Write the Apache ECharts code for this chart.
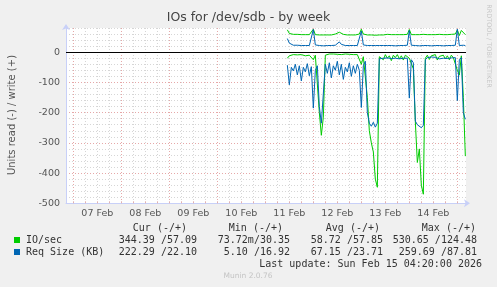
<!DOCTYPE html>
<html><head><meta charset="utf-8">
<script src="https://cdn.jsdelivr.net/npm/echarts@6/dist/echarts.min.js"></script>
<style>html,body{margin:0;padding:0;background:#f0f0f0}#c{width:497px;height:287px}</style>
</head><body><div id="c"></div>
<script>
// hours since 07 Feb 00:00
const startHour = 107;           // first sample: 11 Feb 11:00, 1 h steps
const xMin = -3 - 40 / 60;       // 06 Feb 20:20
const xMax = 196 + 20 / 60;      // 15 Feb 04:20
const xLabels = ['07 Feb', '08 Feb', '09 Feb', '10 Feb', '11 Feb', '12 Feb', '13 Feb', '14 Feb'];
const yLabelValues = [0, -100, -200, -300, -400, -500];

const ioWrite = [
  74, 62, 60, 59, 58, 59, 57, 58, 57, 58,
  57, 58, 60, 76, 58, 57, 57, 58, 57, 56,
  57, 58, 57, 58, 60, 62, 66, 60, 59, 58,
  57, 58, 57, 58, 57, 58, 60, 76, 60, 58,
  57, 58, 57, 58, 56, 58, 57, 59, 57, 58,
  59, 62, 58, 57, 58, 56, 58, 57, 58, 57,
  59, 75, 58, 57, 58, 56, 58, 57, 59, 57,
  58, 57, 58, 56, 58, 57, 59, 57, 58, 57,
  58, 57, 59, 57, 60, 74, 55, 72, 68, 58];
const reqWrite = [
  45, 30, 25, 23, 22, 23, 22, 22, 21, 22,
  22, 22, 23, 75, 24, 22, 22, 22, 21, 22,
  22, 22, 22, 22, 23, 28, 34, 26, 23, 22,
  22, 22, 21, 22, 22, 22, 23, 70, 24, 22,
  22, 22, 22, 21, 22, 22, 22, 22, 22, 21,
  22, 22, 22, 22, 21, 22, 22, 22, 22, 22,
  23, 72, 23, 22, 22, 22, 21, 22, 22, 22,
  22, 22, 21, 22, 22, 22, 22, 22, 21, 22,
  22, 22, 22, 22, 23, 76, 22, 22, 23, 22];
const ioRead = [
  -20, -12, -10, -8, -10, -9, -11, -8, -10, -12,
  -9, -10, -8, -25, -10, -9, -200, -275, -215, -10,
  -8, -6, -7, -6, -8, -7, -6, -8, -7, -6,
  -8, -7, -6, -8, -10, -8, -12, -40, -15, -12,
  -150, -260, -300, -330, -420, -447, -15, -10, -25, -8,
  -20, -12, -28, -10, -18, -8, -22, -12, -26, -10,
  -15, -20, -15, -55, -230, -365, -320, -440, -470, -20,
  -10, -24, -12, -18, -8, -26, -14, -20, -10, -22,
  -12, -25, -10, -18, -15, -60, -76, -12, -150, -344];
const reqRead = [
  -43, -108, -50, -62, -40, -75, -45, -95, -50, -65,
  -38, -78, -48, -185, -60, -45, -180, -235, -232, -40,
  -70, -35, -85, -45, -60, -30, -75, -40, -90, -50,
  -65, -35, -80, -45, -70, -40, -60, -183, -45, -30,
  -200, -235, -245, -232, -248, -235, -22, -18, -20, -16,
  -19, -15, -21, -17, -20, -16, -22, -18, -20, -17,
  -20, -152, -25, -35, -228, -240, -235, -250, -242, -25,
  -18, -20, -16, -21, -17, -19, -22, -16, -20, -18,
  -21, -17, -19, -20, -18, -160, -25, -18, -200, -222];

const legendNames = ['IO/sec', 'Req Size (KB)'];
const legendHeads = ['Cur (-/+)', 'Min (-/+)', 'Avg (-/+)', 'Max (-/+)'];
const curVals = ['344.39 /57.09', '222.29 /22.10'];
const minVals = ['73.72m/30.35', '5.10 /16.92'];
const avgVals = ['58.72 /57.85', '67.15 /23.71'];
const maxVals = ['530.65 /124.48', '259.69 /87.81'];
const lastUpdate = 'Last update: Sun Feb 15 04:20:00 2026';

const GREEN = '#00cc00', BLUE = '#0066b3';
const toPairs = arr => arr.map((v, i) => [startHour + i, v]);

const xTicks = []; for (let h = 0; h <= 192; h += 6) xTicks.push(h);
const xLabelPos = xLabels.map((_, k) => 12 + 24 * k);

const mono = 'DejaVu Sans Mono';
const txtColor = '#333';
const graphic = [
  { type: 'text', left: 'center', top: 11, style: { text: 'IOs for /dev/sdb - by week', font: '12.5px "DejaVu Sans"', fill: '#444' } },
  { type: 'text', x: 12, y: 115, rotation: Math.PI / 2, style: { text: 'Units read (-) / write (+)', font: '10px "DejaVu Sans"', fill: '#555', align: 'center', verticalAlign: 'middle' } },
  { type: 'text', x: 489, y: 46, rotation: -Math.PI / 2, style: { text: 'RRDTOOL / TOBI OETIKER', font: '6.5px "DejaVu Sans"', fill: '#c8c8c8', align: 'center', verticalAlign: 'middle' } },
  { type: 'text', x: 248, y: 276, style: { text: 'Munin 2.0.76', font: '7.5px "DejaVu Sans"', fill: '#c4c4c4', align: 'center', verticalAlign: 'middle' } },
  { type: 'text', x: 482, y: 264, style: { text: lastUpdate, font: '10px "' + mono + '"', fill: txtColor, align: 'right', verticalAlign: 'middle' } }
];
const headEnds = [187, 283, 380, 476];
legendHeads.forEach((h, k) => graphic.push({ type: 'text', x: headEnds[k], y: 228, style: { text: h, font: '10px "' + mono + '"', fill: txtColor, align: 'right', verticalAlign: 'middle' } }));
const colEnds = [197, 290, 383, 477];
const rowsY = [240, 252];
[GREEN, BLUE].forEach((c, r) => {
  graphic.push({ type: 'rect', shape: { x: 14, y: rowsY[r] - 3, width: 6, height: 6 }, style: { fill: c } });
  graphic.push({ type: 'text', x: 26, y: rowsY[r], style: { text: legendNames[r], font: '10px "' + mono + '"', fill: txtColor, verticalAlign: 'middle' } });
  [curVals, minVals, avgVals, maxVals].forEach((col, k) => {
    graphic.push({ type: 'text', x: colEnds[k], y: rowsY[r], style: { text: col[r], font: '10px "' + mono + '"', fill: txtColor, align: 'right', verticalAlign: 'middle' } });
  });
});

const lineSeries = (name, data, color, z) => ({
  name, type: 'line', data: toPairs(data), showSymbol: false, symbol: 'none',
  lineStyle: { color, width: 1 }, itemStyle: { color }, z, animation: false, silent: true
});

const axisLineStyle = { show: true, onZero: false, lineStyle: { color: '#c8d0f8', width: 1 }, symbol: ['none', 'arrow'], symbolSize: [6, 6], symbolOffset: [0, 4] };

const chart = echarts.init(document.getElementById('c'), null, { renderer: 'canvas' });
chart.setOption({
  animation: false,
  backgroundColor: '#f0f0f0',
  grid: { left: 66, top: 28, width: 400, height: 175.3, show: true, backgroundColor: '#ffffff', borderWidth: 0 },
  xAxis: {
    type: 'value', min: xMin, max: xMax,
    axisLine: axisLineStyle,
    axisTick: { show: true, inside: true, length: 2, customValues: xTicks, lineStyle: { color: '#e0b0b0' } },
    axisLabel: { customValues: xLabelPos, formatter: v => xLabels[Math.round((v - 12) / 24)] || '', color: '#555', fontFamily: 'DejaVu Sans', fontSize: 9.5, margin: 5 },
    splitLine: { show: true, lineStyle: { color: ['#e6a8a8', '#d6d6d6', '#d6d6d6', '#d6d6d6'], type: [1, 2], width: 1 } }
  },
  yAxis: {
    type: 'value', min: -500, max: 80, interval: 20,
    axisLine: axisLineStyle,
    axisTick: { show: false },
    axisLabel: { formatter: v => (yLabelValues.indexOf(v) >= 0 ? String(v) : ''), color: '#555', fontFamily: 'DejaVu Sans', fontSize: 9.5, margin: 6 },
    splitLine: { show: true, lineStyle: { color: ['#e6a8a8', '#d6d6d6', '#d6d6d6', '#d6d6d6', '#d6d6d6'], type: [1, 2], width: 1 } }
  },
  graphic,
  series: [
    Object.assign(lineSeries('IO/sec read', ioRead, GREEN, 2), {
      markLine: { silent: true, symbol: 'none', label: { show: false }, lineStyle: { color: '#000', width: 1, type: 'solid' }, data: [{ yAxis: 0 }], z: 5 }
    }),
    lineSeries('IO/sec write', ioWrite, GREEN, 2),
    lineSeries('Req Size read', reqRead, BLUE, 3),
    lineSeries('Req Size write', reqWrite, BLUE, 3)
  ]
});
</script></body></html>
